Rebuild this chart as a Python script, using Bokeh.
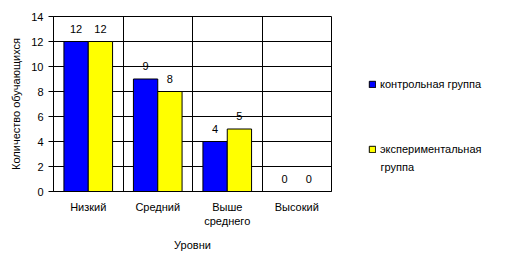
from bokeh.plotting import figure
from bokeh.layouts import row
from bokeh.models import Range1d, FixedTicker, Legend, LegendItem, ColumnDataSource, Label
from bokeh.core.properties import value
from bokeh.embed import file_html
from bokeh.resources import INLINE

categories = ["Низкий", "Средний", "Выше\nсреднего", "Высокий"]
control = [12, 9, 4, 0]
experimental = [12, 8, 5, 0]
series_names = ["контрольная группа", "экспериментальная\nгруппа"]
y_ticks = [0, 2, 4, 6, 8, 10, 12, 14]
colors = ["#0000FF", "#FFFF00"]

FONT = "Liberation Sans"
BAR_W = 0.35

p = figure(width=332, height=276, output_backend="svg", toolbar_location=None,
           x_range=Range1d(0, len(categories)), y_range=Range1d(0, 14),
           min_border_left=53, min_border_top=16, min_border_bottom=85, min_border_right=1)
p.background_fill_color = "white"
p.border_fill_color = "white"
p.outline_line_color = "black"
p.outline_line_width = 1

centers = [i + 0.5 for i in range(len(categories))]
src_c = ColumnDataSource(dict(x=[c - BAR_W / 2 for c in centers], top=control,
                              lab=[str(v) for v in control]))
src_e = ColumnDataSource(dict(x=[c + BAR_W / 2 for c in centers], top=experimental,
                              lab=[str(v) for v in experimental]))
sources = [src_c, src_e]

for s, col in zip(sources, colors):
    p.vbar(x="x", top="top", width=BAR_W, source=s, fill_color=col, line_color="black")

for s in sources:
    p.text(x="x", y="top", text="lab", source=s, text_align="center", text_baseline="middle",
           y_offset=-13, text_font=value(FONT), text_font_size="11px", text_color="black")

# grids
p.xgrid.ticker = FixedTicker(ticks=list(range(len(categories) + 1)))
p.xgrid.grid_line_color = "black"
p.xgrid.grid_line_width = 1
p.ygrid.ticker = FixedTicker(ticks=y_ticks)
p.ygrid.grid_line_color = "black"
p.ygrid.grid_line_width = 1

# x axis
xa = p.xaxis[0]
xa.ticker = FixedTicker(ticks=centers)
xa.major_label_overrides = {c: lab for c, lab in zip(centers, categories)}
xa.major_tick_out = 0
xa.major_tick_in = 0
xa.minor_tick_out = 0
xa.minor_tick_in = 0
xa.axis_line_color = "black"
xa.major_label_standoff = 9
xa.major_label_text_font = FONT
xa.major_label_text_font_size = "11px"
xa.major_label_text_color = "black"
xa.axis_label = "Уровни"
xa.axis_label_text_font = FONT
xa.axis_label_text_font_size = "11px"
xa.axis_label_text_font_style = "normal"
xa.axis_label_text_color = "black"
xa.axis_label_standoff = 9

# y axis
ya = p.yaxis[0]
ya.ticker = FixedTicker(ticks=y_ticks)
ya.major_tick_out = 5
ya.major_tick_in = 0
ya.minor_tick_out = 0
ya.minor_tick_in = 0
ya.axis_line_color = "black"
ya.major_tick_line_color = "black"
ya.major_label_standoff = 5
ya.major_label_text_font = FONT
ya.major_label_text_font_size = "11px"
ya.major_label_text_color = "black"
ya.axis_label = "Количество обучающихся"
ya.axis_label_text_font = FONT
ya.axis_label_text_font_size = "11px"
ya.axis_label_text_font_style = "normal"
ya.axis_label_text_color = "black"
ya.axis_label_standoff = 6

# legend panel (same series, drawn outside its visible ranges; only the legend shows)
q = figure(width=181, height=276, output_backend="svg", toolbar_location=None,
           x_axis_type=None, y_axis_type=None, x_range=Range1d(-3, -2), y_range=Range1d(-2, -1),
           min_border=0)
q.outline_line_color = None
q.grid.visible = False
q.background_fill_color = "white"
q.border_fill_color = "white"
locs = [(36, 101), (36, 36)]
for name, col, s, loc in zip(series_names, colors, sources, locs):
    first, *rest = name.split("\n")
    r = q.vbar(x="x", top="top", width=BAR_W, source=s, fill_color=col, line_color="black")
    lg = Legend(items=[LegendItem(label=first, renderers=[r])], location=loc, padding=0,
                margin=0, border_line_alpha=0, background_fill_alpha=0, glyph_width=8,
                glyph_height=8, label_standoff=4, label_text_font=FONT,
                label_text_font_size="11px", label_text_color="black",
                label_height=13, spacing=0)
    q.add_layout(lg, "center")
    for k, line in enumerate(rest):
        q.add_layout(Label(x=loc[0] + 12, y=loc[1] - 11 - 16 * k, x_units="screen",
                           y_units="screen", text=line, text_font=FONT,
                           text_font_size="11px", text_color="black",
                           text_baseline="middle", text_align="left"))

open("out.html", "w").write(file_html(row(p, q), INLINE))
